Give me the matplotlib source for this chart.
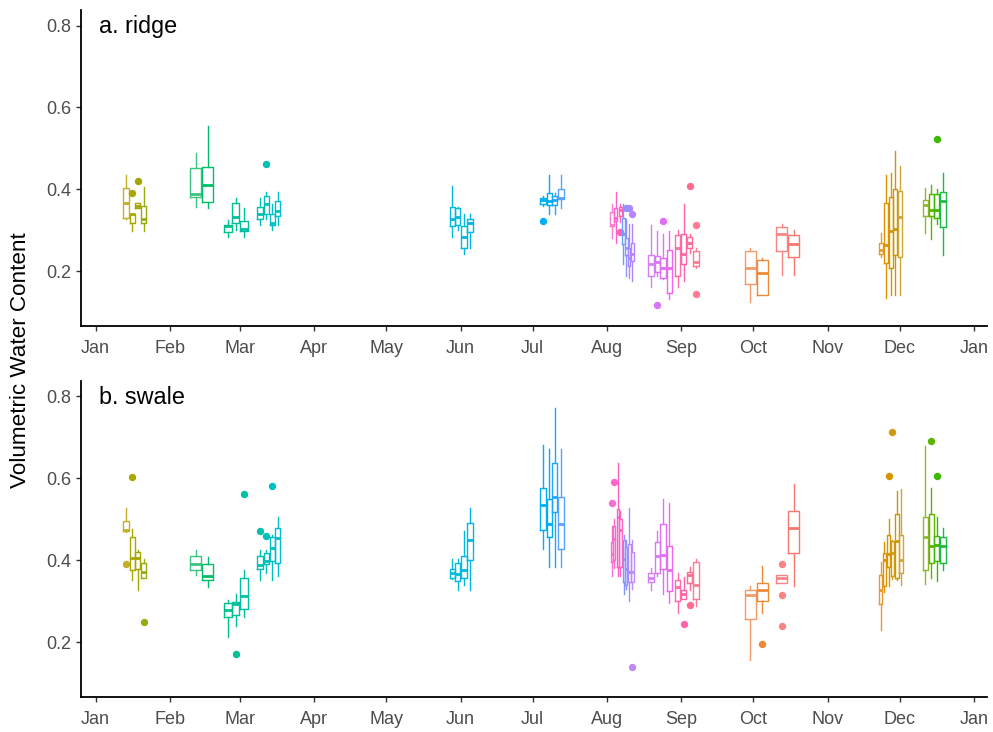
import numpy as np
import matplotlib.pyplot as plt
import matplotlib.dates as mdates

plt.rcParams['font.family'] = ['Liberation Sans', 'DejaVu Sans']

start = mdates.date2num(np.datetime64('2016-01-01'))

# ---- ridge: day of 2016 (0 = Jan 1) and box statistics ----
ridge_day = [12.6, 15.2, 17.5, 20.0, 41.7, 46.7, 55.1, 58.4, 61.8, 68.4, 71.1, 73.5, 75.9,
             148.5, 150.8, 153.4, 156.0, 186.4, 189.0, 191.3, 193.9,
             215.0, 216.6, 218.5, 219.8, 221.0, 222.2, 223.5,
             231.4, 233.9, 236.3, 239.0, 242.5, 244.9, 247.4, 250.2,
             272.7, 277.7, 285.8, 290.8,
             327.3, 329.1, 331.2, 333.1, 335.1, 345.6, 348.0, 350.4, 353.0]
ridge_lo = [0.327, 0.298, 0.354, 0.298, 0.358, 0.355, 0.284, 0.300, 0.284, 0.313, 0.327, 0.300, 0.313,
            0.283, 0.300, 0.243, 0.256, 0.360, 0.341, 0.341, 0.355,
            0.282, 0.270, 0.320, 0.218, 0.188, 0.184, 0.176,
            0.161, 0.188, 0.180, 0.133, 0.161, 0.176, 0.245, 0.207,
            0.124, 0.141, 0.190, 0.190,
            0.235, 0.135, 0.141, 0.141, 0.141, 0.294, 0.278, 0.315, 0.239]
ridge_q1 = [0.331, 0.317, 0.354, 0.317, 0.382, 0.368, 0.296, 0.318, 0.298, 0.327, 0.341, 0.313, 0.335,
            0.310, 0.312, 0.256, 0.296, 0.365, 0.363, 0.361, 0.376,
            0.311, 0.323, 0.335, 0.266, 0.239, 0.214, 0.225,
            0.188, 0.199, 0.184, 0.146, 0.188, 0.217, 0.256, 0.212,
            0.168, 0.143, 0.250, 0.234,
            0.241, 0.219, 0.208, 0.239, 0.235, 0.335, 0.335, 0.331, 0.309]
ridge_med = [0.366, 0.340, 0.360, 0.327, 0.388, 0.411, 0.310, 0.332, 0.304, 0.341, 0.365, 0.319, 0.347,
             0.327, 0.332, 0.283, 0.319, 0.375, 0.372, 0.375, 0.380,
             0.313, 0.331, 0.349, 0.290, 0.257, 0.233, 0.243,
             0.217, 0.222, 0.208, 0.208, 0.257, 0.243, 0.270, 0.222,
             0.208, 0.195, 0.290, 0.267,
             0.253, 0.264, 0.298, 0.304, 0.332, 0.362, 0.349, 0.349, 0.372]
ridge_q3 = [0.403, 0.341, 0.366, 0.360, 0.452, 0.455, 0.312, 0.366, 0.324, 0.357, 0.385, 0.341, 0.372,
            0.357, 0.354, 0.310, 0.328, 0.380, 0.392, 0.384, 0.402,
            0.345, 0.354, 0.357, 0.329, 0.282, 0.257, 0.270,
            0.239, 0.237, 0.233, 0.253, 0.288, 0.292, 0.283, 0.249,
            0.250, 0.227, 0.309, 0.288,
            0.270, 0.366, 0.382, 0.400, 0.396, 0.374, 0.388, 0.389, 0.394]
ridge_hi = [0.435, 0.341, 0.366, 0.407, 0.488, 0.555, 0.325, 0.378, 0.354, 0.378, 0.394, 0.365, 0.394,
            0.408, 0.357, 0.339, 0.339, 0.385, 0.435, 0.392, 0.435,
            0.365, 0.394, 0.365, 0.365, 0.327, 0.315, 0.315,
            0.312, 0.298, 0.290, 0.298, 0.300, 0.365, 0.290, 0.257,
            0.257, 0.233, 0.315, 0.302,
            0.294, 0.435, 0.440, 0.494, 0.457, 0.404, 0.410, 0.400, 0.439]
ridge_out = [[], [0.392], [0.420], [], [], [], [], [], [], [], [0.463], [], [],
             [], [], [], [], [0.324], [], [], [],
             [], [], [0.297], [], [0.354], [0.354], [0.339],
             [], [0.117], [0.324], [], [], [], [0.408], [0.312, 0.145],
             [], [], [], [],
             [], [], [], [], [], [], [], [0.524], []]
ridge_colors = ['#C2B02A', '#ABA600', '#A3A500', '#98AC12', '#3CC380', '#00BE67', '#00C08B', '#00C097',
                '#00C0A3', '#00C0AF', '#00C0B8', '#00BFC4', '#00BCCD',
                '#00BCD8', '#00BADE', '#00B8E3', '#00B5E8', '#00B0F6', '#00ACFA', '#1AA8FF', '#5AA2FF',
                '#F57ED2', '#FF61C9', '#FF63B8', '#6E9BFF', '#8F93FF', '#A58BFF', '#B983FF',
                '#D580F7', '#D977F5', '#E36EF6', '#EE67EC', '#FF6CA8', '#FF64A8', '#FF6C91', '#FF7A95',
                '#F29B6A', '#EC8A36', '#F88585', '#F7796E',
                '#E69A2E', '#E09200', '#D69400', '#C99800', '#CCA638',
                '#8DBA2C', '#5DB400', '#3CB800', '#1DBB45']

# ---- swale ----
swale_day = [12.6, 15.2, 17.5, 20.0, 41.7, 46.7, 55.1, 58.4, 61.8, 68.4, 71.1, 73.5, 75.9,
             148.5, 150.8, 153.4, 156.0, 186.4, 189.0, 191.3, 193.9,
             215.0, 216.0, 217.5, 218.6, 219.9, 220.9, 222.2, 223.5,
             231.4, 233.9, 236.3, 239.0, 242.5, 244.9, 247.4, 250.2,
             272.7, 277.7, 285.8, 290.8,
             327.0, 328.5, 330.3, 331.9, 333.8, 335.4, 345.6, 348.0, 350.4, 353.0]
swale_lo = [0.470, 0.353, 0.329, 0.357, 0.364, 0.335, 0.214, 0.241, 0.263, 0.353, 0.368, 0.353, 0.361,
            0.355, 0.329, 0.341, 0.329, 0.427, 0.384, 0.384, 0.384,
            0.361, 0.381, 0.361, 0.361, 0.319, 0.331, 0.302, 0.330,
            0.329, 0.362, 0.319, 0.297, 0.271, 0.306, 0.329, 0.290,
            0.158, 0.271, 0.346, 0.337,
            0.231, 0.324, 0.337, 0.355, 0.351, 0.341, 0.343, 0.358, 0.350, 0.376]
swale_q1 = [0.471, 0.377, 0.380, 0.357, 0.377, 0.351, 0.261, 0.266, 0.282, 0.380, 0.390, 0.399, 0.394,
            0.357, 0.349, 0.358, 0.402, 0.475, 0.457, 0.517, 0.427,
            0.396, 0.400, 0.384, 0.384, 0.347, 0.341, 0.347, 0.347,
            0.347, 0.368, 0.380, 0.325, 0.301, 0.306, 0.346, 0.306,
            0.256, 0.302, 0.346, 0.419,
            0.293, 0.337, 0.384, 0.361, 0.358, 0.368, 0.376, 0.394, 0.399, 0.394]
swale_med = [0.474, 0.406, 0.406, 0.372, 0.390, 0.361, 0.278, 0.293, 0.312, 0.388, 0.398, 0.429, 0.455,
             0.368, 0.366, 0.376, 0.449, 0.534, 0.488, 0.555, 0.488,
             0.415, 0.451, 0.506, 0.475, 0.404, 0.380, 0.372, 0.372,
             0.356, 0.411, 0.414, 0.377, 0.335, 0.319, 0.364, 0.341,
             0.315, 0.327, 0.357, 0.478,
             0.329, 0.402, 0.415, 0.418, 0.447, 0.400, 0.456, 0.435, 0.437, 0.435]
swale_q3 = [0.495, 0.457, 0.420, 0.394, 0.411, 0.390, 0.296, 0.298, 0.358, 0.410, 0.417, 0.456, 0.478,
            0.380, 0.394, 0.411, 0.492, 0.576, 0.550, 0.638, 0.555,
            0.444, 0.483, 0.524, 0.501, 0.449, 0.433, 0.439, 0.420,
            0.370, 0.444, 0.488, 0.435, 0.351, 0.329, 0.372, 0.396,
            0.327, 0.346, 0.364, 0.521,
            0.365, 0.417, 0.461, 0.447, 0.514, 0.463, 0.506, 0.512, 0.460, 0.456]
swale_hi = [0.527, 0.476, 0.426, 0.404, 0.425, 0.407, 0.304, 0.317, 0.376, 0.426, 0.425, 0.461, 0.505,
            0.404, 0.404, 0.471, 0.528, 0.682, 0.671, 0.772, 0.671,
            0.483, 0.500, 0.637, 0.520, 0.461, 0.449, 0.528, 0.449,
            0.381, 0.471, 0.550, 0.539, 0.369, 0.359, 0.384, 0.404,
            0.337, 0.386, 0.364, 0.586,
            0.395, 0.444, 0.501, 0.450, 0.570, 0.573, 0.679, 0.576, 0.505, 0.480]
swale_out = [[0.390], [0.603], [], [0.249], [], [], [], [0.172], [0.562], [0.472], [0.460], [0.581], [],
             [], [], [], [], [], [], [], [],
             [0.539], [0.592], [], [], [], [], [], [0.141],
             [], [], [], [], [], [0.244], [0.292], [],
             [], [0.196], [0.390, 0.316, 0.241], [],
             [], [], [0.606], [0.713], [], [], [], [0.690], [0.606], []]
swale_colors = ['#C2B02A', '#ABA600', '#A3A500', '#98AC12', '#3CC380', '#00BE67', '#00C08B', '#00C097',
                '#00C0A3', '#00C0AF', '#00C0B8', '#00BFC4', '#00BCCD',
                '#00BCD8', '#00BADE', '#00B8E3', '#00B5E8', '#00B0F6', '#00ACFA', '#1AA8FF', '#5AA2FF',
                '#F571CF', '#FF66CC', '#FF5FC5', '#FF63BE', '#7D98FF', '#9690FF', '#A98AFF', '#C08AF8',
                '#D580F7', '#D977F5', '#E36EF6', '#EE67EC', '#FF6CA8', '#FF64A8', '#FF6C91', '#FF7A95',
                '#F29B6A', '#EC8A36', '#F88585', '#F7796E',
                '#E69A2E', '#E09200', '#D69400', '#D09A10', '#C99800', '#CCA638',
                '#8DBA2C', '#5DB400', '#3CB800', '#1DBB45']

month_ticks = np.arange('2016-01', '2017-02', dtype='datetime64[M]').astype('datetime64[D]')


def draw_panel(ax, day, lo, q1, med, q3, hi, out, colors, label):
    x = start + np.array(day)
    gaps = np.diff(x)
    near = np.minimum(np.r_[np.inf, gaps], np.r_[gaps, np.inf])
    widths = 0.9 * near
    for i in range(len(x)):
        c = colors[i]
        stats = [dict(whislo=lo[i], q1=q1[i], med=med[i], q3=q3[i], whishi=hi[i], fliers=out[i])]
        ax.bxp(stats, positions=[x[i]], widths=[widths[i]], showcaps=False, manage_ticks=False,
               boxprops=dict(color=c, lw=1.0),
               whiskerprops=dict(color=c, lw=1.0),
               medianprops=dict(color=c, lw=2.0, solid_capstyle='butt'),
               flierprops=dict(marker='o', markerfacecolor=c, markeredgecolor=c,
                               markersize=4.3, linestyle='none'))

    ax.set_xlim(start - 6.1, start + 371.3)
    ax.set_ylim(0.067, 0.838)
    ax.set_xticks(mdates.date2num(month_ticks))
    ax.xaxis.set_major_formatter(mdates.DateFormatter('%b'))
    ax.set_yticks([0.2, 0.4, 0.6, 0.8])
    ax.set_yticklabels(['0.2', '0.4', '0.6', '0.8'])
    for s in ['top', 'right']:
        ax.spines[s].set_visible(False)
    for s in ['left', 'bottom']:
        ax.spines[s].set_linewidth(1.3)
    ax.tick_params(length=3.8, width=1.0, color='#333333', labelcolor='#4D4D4D',
                   labelsize=13.0)
    ax.tick_params(axis='x', pad=6.5)
    ax.tick_params(axis='y', pad=3)
    ax.text(0.02, 0.984, label, transform=ax.transAxes, ha='left', va='top',
            fontsize=16.8, color='black')


fig = plt.figure(figsize=(9.93, 7.32), dpi=100)
ax1 = fig.add_axes([0.0816, 0.555, 0.9124, 0.4313])
ax2 = fig.add_axes([0.0816, 0.0478, 0.9124, 0.4322])

draw_panel(ax1, ridge_day, ridge_lo, ridge_q1, ridge_med, ridge_q3, ridge_hi,
           ridge_out, ridge_colors, 'a. ridge')
draw_panel(ax2, swale_day, swale_lo, swale_q1, swale_med, swale_q3, swale_hi,
           swale_out, swale_colors, 'b. swale')

fig.text(0.021, 0.508, 'Volumetric Water Content', rotation=90, ha='center', va='center',
         fontsize=16.2)

plt.savefig('out.png', dpi=100)
